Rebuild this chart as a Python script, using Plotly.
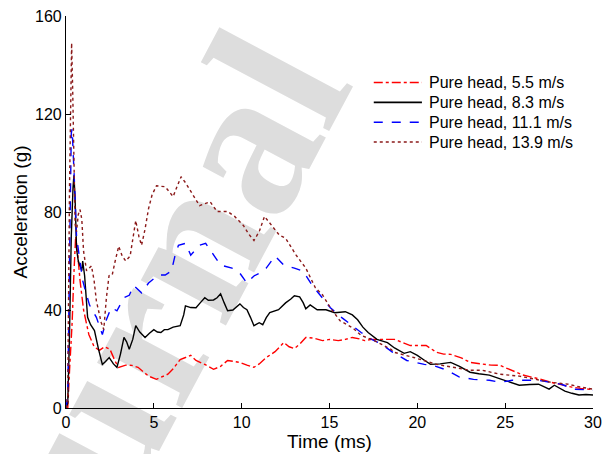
import plotly.graph_objects as go

# ---- data ----
t_55 = [0, 0.1, 0.2, 0.35, 0.45, 0.55, 0.65, 0.8, 1.0, 1.3, 1.6, 1.9, 2.2, 2.5, 2.8, 3.0, 3.4, 3.75, 4.1, 4.3, 4.7, 5.15, 5.5, 5.8, 6.1, 6.5, 6.8, 7.1, 7.4, 7.9, 8.4, 8.8, 9.2, 9.6, 9.9, 10.3, 10.7, 11.0, 11.4, 11.9, 12.4, 12.7, 13.0, 13.3, 13.65, 14.1, 14.6, 15.0, 15.5, 15.9, 16.3, 16.7, 17.0, 17.4, 17.7, 18.2, 18.7, 19.2, 19.6, 20.0, 20.5, 21.1, 21.5, 21.9, 22.5, 23.0, 23.7, 24.2, 24.7, 25.2, 25.6, 26.0, 26.5, 27.0, 27.6, 28.2, 28.8, 29.3, 30.0]
a_55 = [0, 0, 15, 35, 55, 70, 64, 52, 40, 30, 25, 23.5, 25, 24, 19, 16.6, 17.5, 17.4, 16.6, 15.4, 13, 11.7, 13, 13.8, 16, 19.8, 20.6, 21.5, 19.4, 17.8, 15.8, 17, 19.4, 19, 18.6, 17.5, 16.6, 18, 20.6, 23, 26.7, 25, 24.3, 26, 28.8, 28.5, 27.5, 28, 27.5, 28, 28.8, 28.2, 27.5, 28, 27.9, 28, 28, 26.5, 25.5, 25.5, 25.5, 22.7, 22, 21.9, 20.5, 18.6, 17.8, 17.5, 17.4, 16, 14.6, 13.5, 12.6, 11.8, 10.5, 9.5, 8.5, 8, 7.5]

t_83 = [0, 0.1, 0.2, 0.3, 0.4, 0.45, 0.52, 0.6, 0.7, 0.8, 0.9, 0.95, 1.06, 1.15, 1.23, 1.4, 1.62, 1.85, 2.07, 2.25, 2.46, 2.7, 2.9, 3.1, 3.3, 3.45, 3.6, 3.8, 3.97, 4.2, 4.5, 4.75, 5.0, 5.2, 5.4, 5.6, 5.8, 6.1, 6.5, 6.7, 6.8, 7.1, 7.4, 7.65, 7.9, 8.1, 8.4, 8.6, 8.8, 9.0, 9.2, 9.5, 9.9, 10.1, 10.3, 10.5, 10.7, 11.0, 11.2, 11.4, 11.6, 12.1, 12.5, 12.8, 13.0, 13.3, 13.5, 13.65, 13.9, 14.3, 14.8, 15.3, 15.9, 16.3, 16.6, 16.9, 17.2, 17.7, 18.3, 18.7, 19.25, 19.6, 20.0, 20.4, 20.75, 21.3, 21.9, 22.4, 23.0, 23.5, 24.1, 24.8, 25.3, 25.8, 26.4, 26.9, 27.2, 27.5, 27.8, 28.1, 28.4, 28.8, 29.2, 29.6, 30.0]
a_83 = [0, 2, 30, 70, 90, 95, 85, 65, 60, 58, 56, 60, 54, 45, 37, 34, 31.6, 24, 17.8, 19, 20.6, 18, 16.6, 22, 28.8, 27, 24, 28, 33.6, 31, 28.8, 30.5, 32, 31, 30.8, 32, 32, 33, 33.6, 38, 41.7, 41, 40.9, 43, 45, 44, 44.1, 45, 46.6, 43, 39.7, 40, 42.5, 41, 40.1, 37, 33.6, 34.8, 34, 36.9, 38.9, 40.1, 42.9, 44.5, 45.8, 45.4, 43, 40.5, 42.1, 40.1, 40.1, 38.9, 39.3, 38, 36, 33, 30.8, 28, 26.7, 24.5, 22.3, 23, 21.5, 19.5, 17.8, 18, 18.6, 17, 14.6, 14, 13.4, 11.7, 10.5, 9.3, 9.6, 9.7, 8.7, 7.7, 9.3, 8, 6.9, 6, 5.3, 5.5, 5.3]

t_111 = [0, 0.1, 0.2, 0.3, 0.35, 0.45, 0.5, 0.6, 0.75, 0.95, 1.1, 1.34, 1.73, 2.07, 2.3, 2.57, 2.9, 3.3, 3.6, 3.86, 4.3, 4.7, 5.26, 5.65, 6.0, 6.2, 6.4, 6.8, 7.1, 7.6, 7.95, 8.4, 8.8, 9.45, 9.9, 10.3, 10.7, 11.0, 11.4, 11.9, 12.4, 13.0, 13.5, 14.0, 14.6, 15.05, 15.7, 16.3, 16.8, 17.4, 18.0, 18.6, 19.4, 20.4, 20.9, 21.7, 22.4, 23.2, 24.1, 24.7, 25.4, 26.1, 26.9, 27.6, 28.2, 28.9, 29.4, 30.0]
a_111 = [0, 5, 60, 112, 114, 100, 89, 70, 63, 52, 48, 42, 37, 30, 36, 41, 39.7, 45, 46, 50, 47, 51, 54.3, 54.3, 55.9, 62, 66.4, 67.2, 62.4, 66.4, 67.2, 62.4, 58.3, 57.1, 55, 51, 53.9, 55, 57.1, 62, 58.3, 57.1, 55.9, 50.2, 45, 40.9, 36.9, 33.6, 30.8, 28, 25.9, 22.7, 19.4, 17.8, 17.4, 15.4, 12.6, 11.7, 11.3, 10.5, 11.3, 11.3, 11.3, 10.5, 9.7, 7.7, 7.5, 7.3]

t_139 = [0, 0.1, 0.2, 0.28, 0.32, 0.38, 0.45, 0.52, 0.6, 0.7, 0.8, 0.9, 1.0, 1.17, 1.45, 1.6, 1.73, 2.0, 2.15, 2.3, 2.45, 2.63, 2.8, 3.0, 3.2, 3.4, 3.65, 3.97, 4.15, 4.3, 4.5, 4.7, 4.9, 5.15, 5.65, 6.1, 6.3, 6.55, 6.8, 7.1, 7.6, 8.2, 8.6, 9.2, 9.6, 10.1, 10.4, 10.7, 11.0, 11.3, 11.7, 12.15, 12.5, 13.1, 13.65, 14.2, 14.6, 15.05, 15.6, 16.3, 16.8, 17.4, 18.0, 18.5, 18.7, 19.8, 21.1, 22.0, 23.0, 23.7, 24.7, 25.8, 26.7, 27.6, 28.6, 29.3, 30.0]
a_139 = [0, 5, 90, 140, 149, 130, 100, 75, 72, 79, 81, 77, 64, 56, 58, 52, 43.7, 35, 32, 45, 54, 54.3, 60, 66, 62, 60, 62, 76.5, 70, 66.4, 73, 81.4, 87, 90.7, 90.3, 86.3, 90, 94.4, 92, 88.3, 82.6, 84.2, 80.2, 80.2, 78.2, 74.5, 71, 68.4, 72, 78.2, 74.5, 70.5, 69.3, 62.4, 57.1, 49, 46.2, 40.9, 35.6, 32.8, 29.6, 28, 25.9, 23.9, 22.7, 20.6, 17.8, 16.6, 15.4, 15.4, 13.8, 13, 11.7, 10.5, 9.7, 8.5, 7.7]

names = ["Pure head, 5.5 m/s", "Pure head, 8.3 m/s", "Pure head, 11.1 m/s", "Pure head, 13.9 m/s"]
x_ticks = [0, 5, 10, 15, 20, 25, 30]
y_ticks = [0, 40, 80, 120, 160]

series = [(t_55, a_55, "#FF0000", "dashdot"),
          (t_83, a_83, "#000000", "solid"),
          (t_111, a_111, "#0000FF", "dash"),
          (t_139, a_139, "#8B1A1A", "dot")]

fig = go.Figure()
for (t, a, c, d), n in zip(series, names):
    fig.add_trace(go.Scatter(x=t, y=a, mode="lines", name=n, showlegend=False,
                             line=dict(color=c, width=1.4, dash=d)))

# watermark (behind data)
fig.add_shape(type="rect", xref="paper", yref="paper",
              x0=0.078, x1=0.079, y0=0.152, y1=0.153,
              line=dict(width=0), fillcolor="rgba(0,0,0,0)", layer="below",
              label=dict(text="<b>Journal</b>", textangle=-62,
                         textposition="middle center",
                         font=dict(family="Liberation Serif", size=210, color="#DDDDDD")))

# legend (keys + labels) placed in the upper right of the axes
leg_y = [0.8304, 0.7797, 0.7291, 0.6785]
for (t, a, c, d), n, yy in zip(series, names, leg_y):
    fig.add_shape(type="line", xref="paper", yref="paper",
                  x0=0.584, x1=0.6754, y0=yy, y1=yy,
                  line=dict(color=c, width=1.6, dash=d))
    fig.add_annotation(xref="paper", yref="paper", x=0.6847, y=yy,
                       xanchor="left", yanchor="middle", text=n, showarrow=False,
                       font=dict(family="Liberation Sans", size=16, color="black"))

axis_common = dict(showline=True, linecolor="black", linewidth=1.2,
                   ticks="inside", ticklen=5, tickcolor="black", tickwidth=1.2,
                   showgrid=False, zeroline=False, mirror=False,
                   tickfont=dict(family="Liberation Sans", size=16, color="black"),
                   title_font=dict(family="Liberation Sans", size=19, color="black"))

fig.update_xaxes(range=[0, 30], tickvals=x_ticks, title_text="Time (ms)",
                 title_standoff=4, ticklabeloverflow="allow", **axis_common)
fig.update_yaxes(range=[0, 160], tickvals=y_ticks, title_text="Acceleration (g)",
                 title_standoff=2, **axis_common)

fig.update_layout(
    width=607, height=454,
    margin=dict(l=66, r=5, t=16, b=43),
    plot_bgcolor="white", paper_bgcolor="white",
    font=dict(family="Liberation Sans", size=16, color="black"),
    showlegend=False,
)

fig.write_html("out.html")
